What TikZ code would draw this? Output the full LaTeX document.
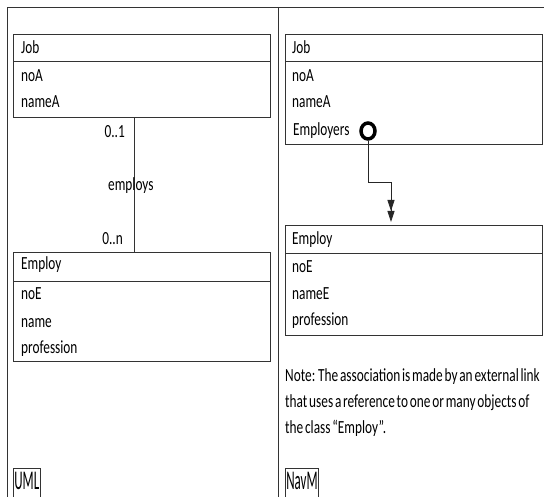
\documentclass[tikz,border=0pt]{standalone}
\usepackage{fontspec}
\setmainfont[FakeStretch=0.72]{Carlito}
\newfontfamily\tagfont[FakeStretch=0.48]{Carlito}
\newfontfamily\notefont[FakeStretch=0.72, WordSpace=0.6]{Carlito}
\usetikzlibrary{arrows.meta, positioning, shapes.geometric}

\begin{document}
\begin{tikzpicture}[x=1pt, y=-1pt,
    rule/.style={draw=black!80, line width=0.9pt},
    box/.style={draw=black!80, line width=0.9pt, anchor=north west, minimum width=257pt, inner sep=0pt},
    attr/.style={anchor=base west, inner sep=0pt, font=\fontsize{18.5}{22}\selectfont},
    tag/.style={draw=black!80, line width=0.7pt, anchor=north west, inner sep=1pt, text height=20pt, text depth=8pt, font=\tagfont\fontsize{27}{30}\selectfont}
]
\clip (0,0) rectangle (544,497);

% frame
\draw[rule] (7,497) -- (7,7) -- (544,7);
\draw[rule] (278,7) -- (278,497);

% UML side
\node[box, minimum height=27pt] (jobLhead) at (13,34) {};
\node[box, minimum height=56pt] (jobLbody) at (13,61) {};
\node[attr] (jobLname) at (21,54) {Job};
\node[attr] (jobLa) at (21,82) {noA};
\node[attr] (jobLb) at (21,108) {nameA};

\node[box, minimum height=29pt] (empLhead) at (13,252) {};
\node[box, minimum height=80pt] (empLbody) at (13,281) {};
\node[attr] (empLname) at (21,270) {Employ};
\node[attr] (empLa) at (21,300) {noE};
\node[attr] (empLb) at (21,327) {name};
\node[attr] (empLc) at (21,353) {profession};

\draw[draw=black!80, line width=0.7pt] ([xshift=-7.5pt]jobLbody.south) -- ([xshift=-7.5pt]empLhead.north);
\node[attr, anchor=base east] (multA) at (125,138) {0..1};
\node[attr] (assoc) at (108,191) {employs};
\node[attr, anchor=base east] (multB) at (123,245) {0..n};

\node[tag] (uml) at (13,468) {UML};

% NavM side
\node[box, minimum height=27pt] (jobRhead) at (285,34) {};
\node[box, minimum height=83pt] (jobRbody) at (285,61) {};
\node[attr] (jobRname) at (292,54) {Job};
\node[attr] (jobRa) at (292,82) {noA};
\node[attr] (jobRb) at (292,108) {nameA};
\node[attr] (jobRc) at (293,136) {Employers};
\node[draw=black, line width=3.5pt, ellipse, minimum width=14pt, minimum height=16pt, inner sep=0pt] (ref) at (368,131) {};

\node[box, minimum height=28pt] (empRhead) at (285,225) {};
\node[box, minimum height=82pt] (empRbody) at (285,253) {};
\node[attr] (empRname) at (292,245) {Employ};
\node[attr] (empRa) at (292,273) {noE};
\node[attr] (empRb) at (292,300) {nameE};
\node[attr] (empRc) at (292,326) {profession};

\coordinate (bend) at (391,182);
\draw[draw=black!85, line width=0.8pt, shorten >=3pt,
      -{Triangle[width=7pt,length=11pt]Triangle[width=7pt,length=11pt]}]
    (ref.south) |- (bend) -- (bend |- empRhead.north);

\node[attr, align=left, anchor=north west, font=\notefont\fontsize{18.5}{26}\selectfont] (note) at (285,368)
    {Note: The association is made by an external link\\that uses a reference to one or many objects of\\the class “Employ”.};

\node[tag] (navm) at (285,468) {NavM};
\end{tikzpicture}
\end{document}
